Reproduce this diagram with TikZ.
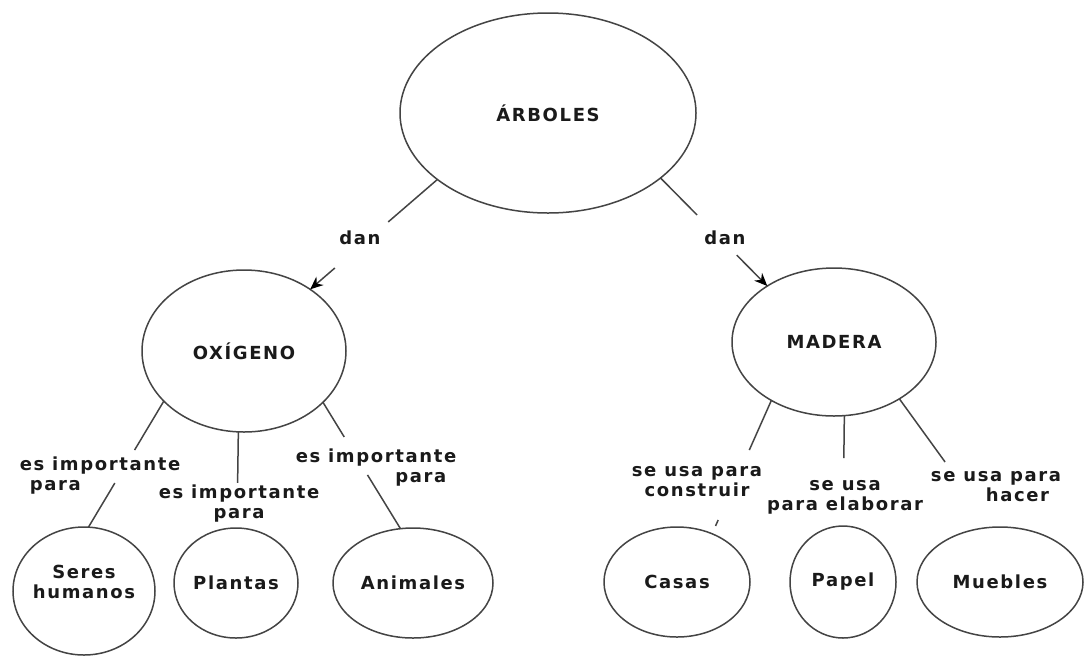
\documentclass[tikz,border=0pt]{standalone}
\usepackage{fontspec}
\setmainfont{DejaVu Sans}[LetterSpace=9]
\usetikzlibrary{shapes.geometric,arrows.meta}
\definecolor{linegray}{HTML}{444444}
\definecolor{textgray}{HTML}{1A1A1A}
\newcommand\mapfont{\bfseries\fontsize{18}{20}\selectfont}
\begin{document}
\begin{tikzpicture}[x=1pt,y=-1pt,
  concept/.style={ellipse, draw=linegray, line width=1.5pt, inner xsep=-12pt, inner ysep=0pt,
    outer sep=0pt, font=\mapfont, text=textgray, align=center},
  link/.style={draw=linegray, line width=1.5pt},
  arrowlink/.style={link, -{Stealth[length=13pt,width=11pt,color=black]}},
  linktext/.style={font=\mapfont, text=textgray, inner sep=0pt, align=center}]
\useasboundingbox[fill=white] (0,0) rectangle (1086,657);

% concepts
\node[concept, minimum width=296pt, minimum height=200pt] (arb) at (548,113) {ÁRBOLES};
\node[concept, minimum width=204pt, minimum height=162pt] (oxi) at (244,351) {OXÍGENO};
\node[concept, minimum width=204pt, minimum height=148pt] (mad) at (834,342) {MADERA};
\node[concept, minimum width=142pt, minimum height=128pt, text depth=18pt] (ser) at (84,591) {Seres\\humanos};
\node[concept, minimum width=124pt, minimum height=110pt] (pla) at (236,583) {Plantas};
\node[concept, minimum width=160pt, minimum height=110pt] (ani) at (413,583) {Animales};
\node[concept, minimum width=146pt, minimum height=110pt] (cas) at (677,582) {Casas};
\node[concept, minimum width=106pt, minimum height=112pt] (pap) at (843,582) {Papel};
\node[concept, minimum width=166pt, minimum height=110pt] (mue) at (1000,582) {Muebles};

% link labels
\node[linktext] (d1) at (360,238) {dan};
\node[linktext] (d2) at (725,238) {dan};
\node[linktext, align=left] (l1) at (100,476) {es importante\\\hspace*{10pt}para};
\node[linktext] (l2) at (239,504) {es importante\\para};
\node[linktext, align=right] (l3) at (376,468) {es importante\\para\hspace*{10pt}};
\node[linktext] (l4) at (697,482) {se usa para\\construir};
\node[linktext] (l5) at (845,497) {se usa\\para elaborar};
\node[linktext, align=right] (l6) at (996,487) {se usa para\\hacer\hspace*{12pt}};

% connectors (gaps leave room for the labels)
\draw[arrowlink, dash pattern=on 65pt off 70.5pt on 300pt] (arb.211) -- (oxi.43);
\draw[arrowlink, dash pattern=on 52pt off 56.5pt on 300pt] (arb.330) -- (mad.140);
\draw[link, dash pattern=on 57pt off 38.5pt on 300pt] (oxi.212) -- (ser.86);
\draw[link, dash pattern=on 51pt off 100pt] (oxi.266) -- (pla.89);
\draw[link, dash pattern=on 40.7pt off 44.5pt on 300pt] (oxi.327) -- (ani.103);
\draw[link, dash pattern=on 54.3pt off 76.6pt on 6.5pt off 100pt] (mad.223) -- (cas.54);
\draw[link, dash pattern=on 42.4pt off 100pt] (mad.278) -- (pap.90);
\draw[link, dash pattern=on 78pt off 100pt] (mad.319) -- (mue.98);
\end{tikzpicture}
\end{document}
